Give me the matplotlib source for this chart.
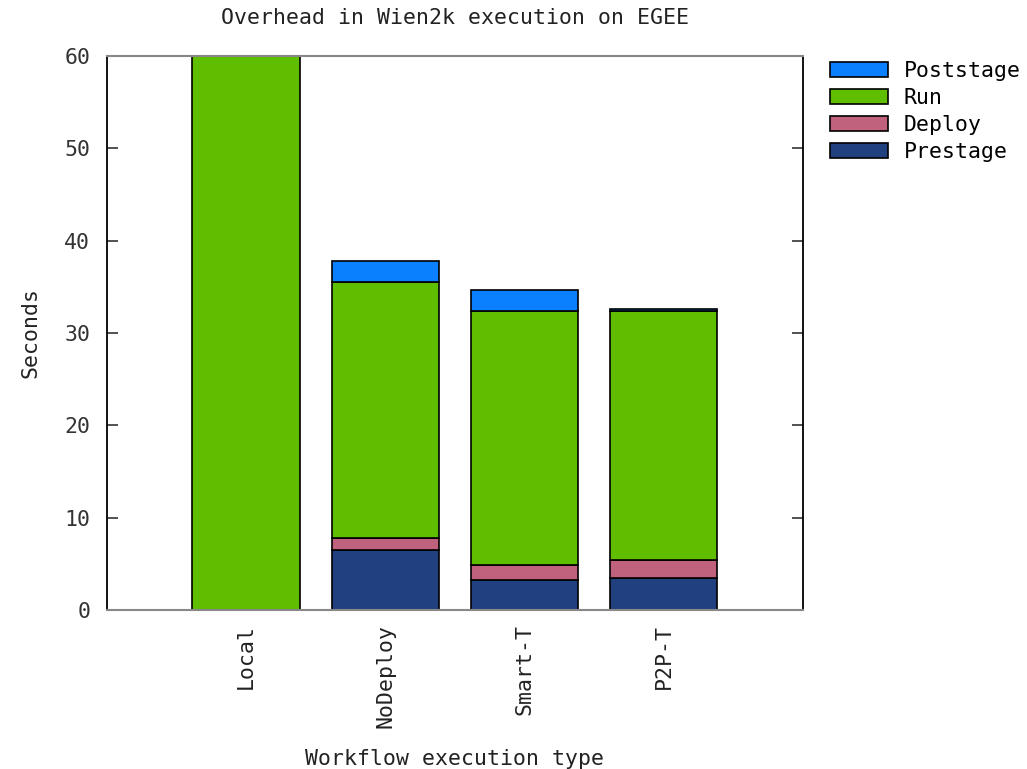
import matplotlib
matplotlib.use("Agg")
import matplotlib.pyplot as plt
from matplotlib.patches import Patch

categories = ["Local", "NoDeploy", "Smart-T", "P2P-T"]
prestage = [0.0, 6.5, 3.25, 3.45]
deploy = [0.0, 1.27, 1.63, 1.97]
run = [60.0, 27.8, 27.45, 27.0]
poststage = [0.15, 2.2, 2.3, 0.18]

series = [("Prestage", prestage, "#21407F"),
          ("Deploy", deploy, "#C0617D"),
          ("Run", run, "#5FBE00"),
          ("Poststage", poststage, "#0A80FF")]

FS = 15.5
plt.rcParams['font.family'] = ['DejaVu Sans Mono']
fig = plt.figure(figsize=(10.27, 7.69), dpi=100)
ax = fig.add_axes([0.104, 0.207, 0.678, 0.72])

x = list(range(len(categories)))
bottom = [0.0] * len(categories)
for name, vals, col in series:
    ax.bar(x, vals, width=0.77, bottom=bottom, color=col, edgecolor="black",
           linewidth=1.2, label=name)
    bottom = [b + v for b, v in zip(bottom, vals)]

ax.set_xlim(-1, 4)
ax.set_ylim(0, 60)
ax.set_yticks([0, 10, 20, 30, 40, 50, 60])
ax.set_xticks(x)
ax.set_xticklabels(categories, rotation=90, fontsize=FS, color="#222222")
ax.tick_params(axis='x', length=0, pad=10)
ax.tick_params(axis='y', direction='in', length=8, right=True, labelsize=FS,
               colors="#333333", width=1.2, pad=12)
for s in ['left', 'right']:
    ax.spines[s].set_color('black')
    ax.spines[s].set_linewidth(1.3)
for s in ['top', 'bottom']:
    ax.spines[s].set_color('#888888')
    ax.spines[s].set_linewidth(1.5)

ax.set_title("Overhead in Wien2k execution on EGEE", fontsize=FS, pad=23, color="#222222")
ax.set_xlabel("Workflow execution type", fontsize=FS, labelpad=15, color="#222222")
ax.set_ylabel("Seconds", fontsize=FS, labelpad=17, color="#222222")

handles = [Patch(facecolor=c, edgecolor="black", linewidth=1.2, label=n)
           for n, v, c in reversed(series)]
fig.legend(handles=handles, loc='upper left', bbox_to_anchor=(0.800, 0.932),
           frameon=False, fontsize=FS, handlelength=2.7, handleheight=0.65,
           handletextpad=0.7, labelspacing=0.33, borderaxespad=0)

fig.savefig("out.png", dpi=100)
